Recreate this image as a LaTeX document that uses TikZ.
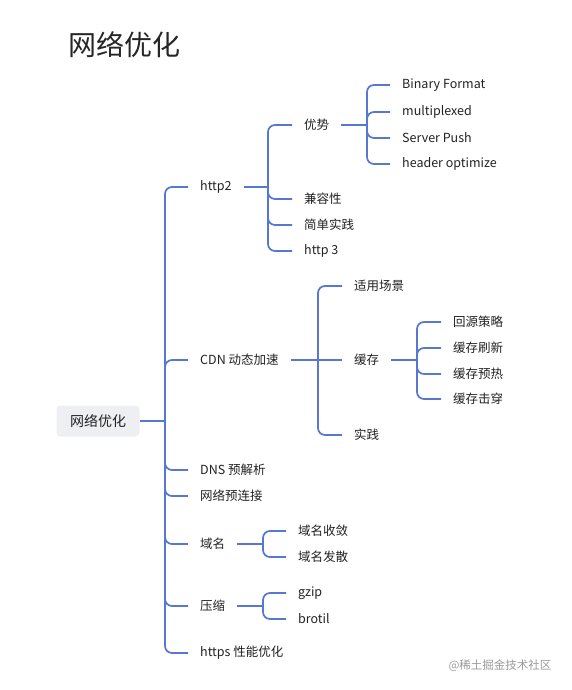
\documentclass[tikz,border=0pt]{standalone}
\usepackage{fontspec}
\setmainfont{Noto Sans CJK SC}
\usetikzlibrary{positioning}
\definecolor{mapblue}{RGB}{86, 120, 208}
\definecolor{maptext}{RGB}{34, 34, 34}
\definecolor{rootgray}{RGB}{238, 239, 242}

\begin{document}
\begin{tikzpicture}[
        x=1pt, y=-1pt,
        title/.style={anchor=west, inner sep=0pt, text=black!85, font=\fontsize{28}{32}\selectfont},
        root/.style={fill=rootgray, rounded corners=4pt, minimum width=83pt, minimum height=31pt, inner sep=0pt, text=maptext, font=\fontsize{14}{16}\selectfont},
        topic/.style={anchor=west, inner xsep=12pt, inner ysep=2pt, text=maptext, font=\fontsize{12.5}{15}\selectfont},
        link/.style={draw=mapblue, line width=1.7pt, rounded corners=7pt},
        srcmark/.style={text=black!40, font=\fontsize{11.5}{14}\selectfont}
    ]
        \useasboundingbox (0,0) rectangle (572,690);

        % Title
        \node[title] (head) at (68, 45) {网络优化};

        % Central topic
        \node[root] (net) at (98, 421) {网络优化};
        \coordinate (jnet) at (165, 421);

        % Level one topics
        \node[topic] (http) at (188, 187) {http2};
        \node[topic] (cdn) at (188, 360) {CDN 动态加速};
        \node[topic] (dns) at (188, 470) {DNS 预解析};
        \node[topic] (pre) at (188, 496) {网络预连接};
        \node[topic] (dom) at (188, 544) {域名};
        \node[topic] (zip) at (188, 606) {压缩};
        \node[topic] (https) at (188, 653) {https 性能优化};

        % http2 topics
        \coordinate (jhttp) at (268, 187);
        \node[topic] (adv) at (292, 125) {优势};
        \node[topic] (compat) at (292, 199) {兼容性};
        \node[topic] (easy) at (292, 225) {简单实践};
        \node[topic] (h3) at (292, 251) {http 3};

        \coordinate (jadv) at (367, 125);
        \node[topic] (bin) at (390, 85) {Binary Format};
        \node[topic] (mux) at (390, 112) {multiplexed};
        \node[topic] (push) at (390, 138) {Server Push};
        \node[topic] (hdr) at (390, 164) {header optimize};

        % CDN topics
        \coordinate (jcdn) at (318, 360);
        \node[topic] (scene) at (342, 286) {适用场景};
        \node[topic] (cache) at (342, 360) {缓存};
        \node[topic] (prac) at (342, 435) {实践};

        \coordinate (jcache) at (417, 360);
        \node[topic] (origin) at (441, 322) {回源策略};
        \node[topic] (flush) at (441, 348) {缓存刷新};
        \node[topic] (warm) at (441, 374) {缓存预热};
        \node[topic] (pierce) at (441, 399) {缓存击穿};

        % Domain and compression topics
        \coordinate (jdom) at (263, 544);
        \node[topic] (merge) at (286, 531) {域名收敛};
        \node[topic] (split) at (286, 557) {域名发散};

        \coordinate (jzip) at (263, 606);
        \node[topic] (gzip) at (286, 593) {gzip};
        \node[topic] (brot) at (286, 619) {brotil};

        % Links - central topic
        \draw[link] (net.east) -- (jnet);
        \draw[link] (jnet) |- (http);
        \draw[link] (jnet) |- (cdn);
        \draw[link] (jnet) |- (dns);
        \draw[link] (jnet) |- (pre);
        \draw[link] (jnet) |- (dom);
        \draw[link] (jnet) |- (zip);
        \draw[link] (jnet) |- (https);

        % Links - http2
        \draw[link] (http.east) -- (jhttp);
        \draw[link] (jhttp) |- (adv);
        \draw[link] (jhttp) |- (compat);
        \draw[link] (jhttp) |- (easy);
        \draw[link] (jhttp) |- (h3);

        \draw[link] (adv.east) -- (jadv);
        \draw[link] (jadv) |- (bin);
        \draw[link] (jadv) |- (mux);
        \draw[link] (jadv) |- (push);
        \draw[link] (jadv) |- (hdr);

        % Links - CDN
        \draw[link] (cdn.east) -- (jcdn);
        \draw[link] (jcdn) |- (scene);
        \draw[link] (jcdn) -- (cache);
        \draw[link] (jcdn) |- (prac);

        \draw[link] (cache.east) -- (jcache);
        \draw[link] (jcache) |- (origin);
        \draw[link] (jcache) |- (flush);
        \draw[link] (jcache) |- (warm);
        \draw[link] (jcache) |- (pierce);

        % Links - domain and compression
        \draw[link] (dom.east) -- (jdom);
        \draw[link] (jdom) |- (merge);
        \draw[link] (jdom) |- (split);

        \draw[link] (zip.east) -- (jzip);
        \draw[link] (jzip) |- (gzip);
        \draw[link] (jzip) |- (brot);

        % Source mark
        \node[srcmark] (src) at (500, 666) {@稀土掘金技术社区};
    \end{tikzpicture}
\end{document}
